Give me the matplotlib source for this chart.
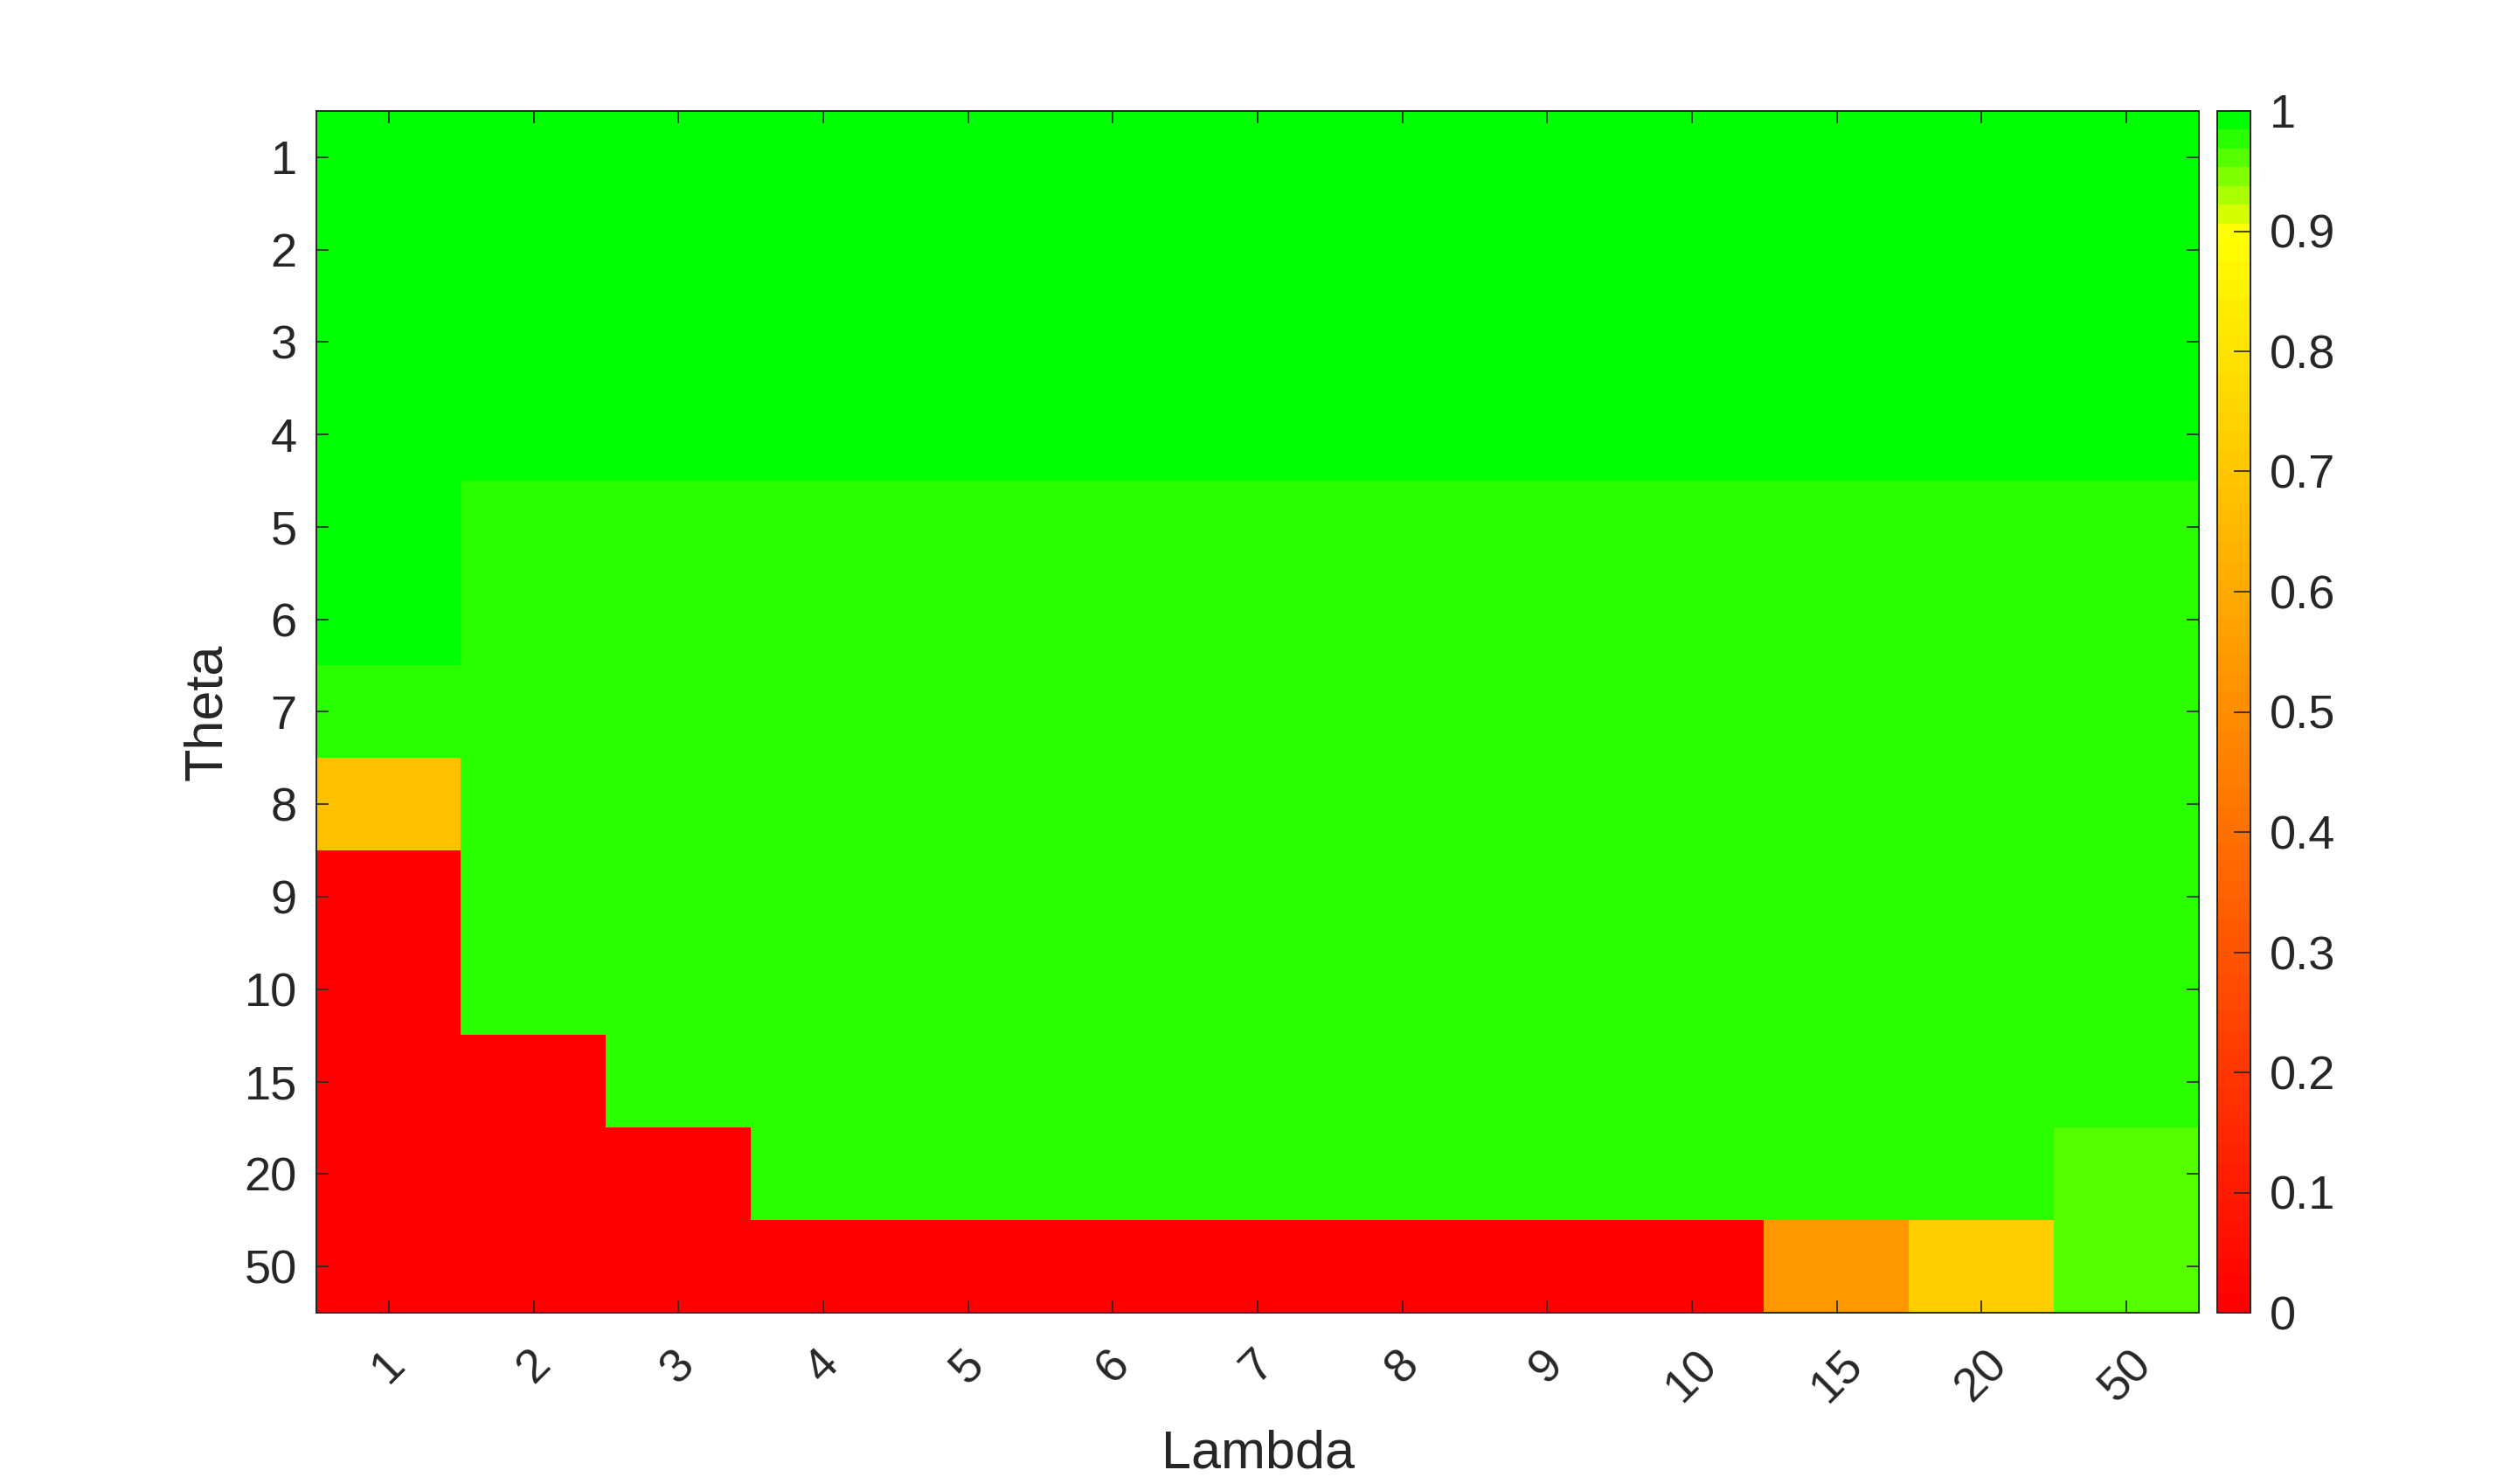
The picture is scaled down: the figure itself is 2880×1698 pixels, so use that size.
import numpy as np
import matplotlib
matplotlib.use("Agg")
import matplotlib.pyplot as plt
from matplotlib.colors import ListedColormap

plt.rcParams['font.family'] = ['Liberation Sans', 'DejaVu Sans']

lambdas = ["1", "2", "3", "4", "5", "6", "7", "8", "9", "10", "15", "20", "50"]
thetas = ["1", "2", "3", "4", "5", "6", "7", "8", "9", "10", "15", "20", "50"]

G1 = 1.0
G2 = 0.977
G3 = 0.96
row_1 = [G1] * 13
row_2 = [G1] * 13
row_3 = [G1] * 13
row_4 = [G1] * 13
row_5 = [G1] + [G2] * 12
row_6 = [G1] + [G2] * 12
row_7 = [G2] * 13
row_8 = [0.68] + [G2] * 12
row_9 = [0.0] + [G2] * 12
row_10 = [0.0] + [G2] * 12
row_15 = [0.0, 0.0] + [G2] * 11
row_20 = [0.0, 0.0, 0.0] + [G2] * 9 + [G3]
row_50 = [0.0] * 10 + [0.54, 0.72, G3]

Z = np.array([row_1, row_2, row_3, row_4, row_5, row_6, row_7, row_8,
              row_9, row_10, row_15, row_20, row_50])

# 64-entry colormap: red -> yellow, then yellow -> green
cols = []
for i in range(64):
    if i <= 57:
        cols.append((1.0, i / 57.0, 0.0))
    else:
        cols.append((1.0 - (i - 57) / 6.0, 1.0, 0.0))
cmap = ListedColormap(cols)

W, H, DPI = 2880, 1698, 200
fig = plt.figure(figsize=(W / DPI, H / DPI), dpi=DPI)
ax = fig.add_axes([362 / W, 1 - 1502 / H, (2516 - 362) / W, (1502 - 127) / H])
cax = fig.add_axes([2537 / W, 1 - 1502 / H, (2575 - 2537) / W, (1502 - 127) / H])

tc = '#262626'
im = ax.imshow(Z, cmap=cmap, vmin=0, vmax=1, aspect='auto', interpolation='nearest')
ax.set_xticks(range(len(lambdas)))
ax.set_xticklabels(lambdas, rotation=45, ha='center', va='top')
ax.set_yticks(range(len(thetas)))
ax.set_yticklabels(thetas)
ax.tick_params(direction='in', length=5, width=0.6, colors=tc, labelsize=19.5,
               top=True, right=True, pad=8)
ax.tick_params(axis='x', pad=12)
for s in ax.spines.values():
    s.set_color(tc)
    s.set_linewidth(0.7)
ax.set_xlabel('Lambda', fontsize=22, color=tc, labelpad=8)
ax.set_ylabel('Theta', fontsize=22, color=tc, labelpad=5)

cb = fig.colorbar(im, cax=cax, ticks=np.linspace(0, 1, 11))
cb.ax.set_yticklabels(['0', '0.1', '0.2', '0.3', '0.4', '0.5', '0.6', '0.7', '0.8', '0.9', '1'])
cb.ax.tick_params(direction='in', length=7, width=0.6, colors=tc, labelsize=19.5, pad=8)
cb.outline.set_edgecolor(tc)
cb.outline.set_linewidth(0.7)

fig.savefig('out.png', dpi=DPI)
